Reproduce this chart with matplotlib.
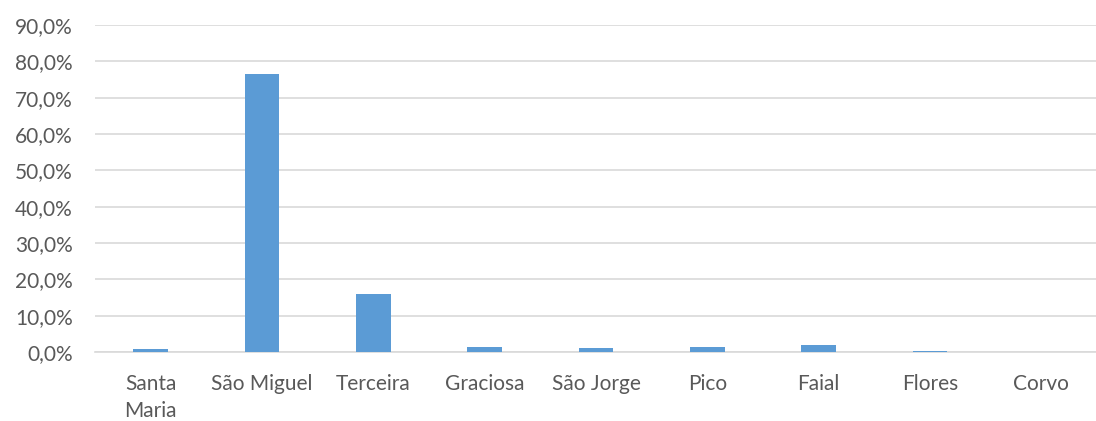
import matplotlib.pyplot as plt
from matplotlib.ticker import FuncFormatter

ilhas = ["Santa\nMaria", "São Miguel", "Terceira", "Graciosa", "São Jorge",
         "Pico", "Faial", "Flores", "Corvo"]
percentagens = [0.8, 76.5, 16.0, 1.4, 1.0, 1.3, 2.0, 0.3, 0.05]
yticks = [0, 10, 20, 30, 40, 50, 60, 70, 80, 90]

plt.rcParams['font.family'] = ['Lato', 'DejaVu Sans']

fig = plt.figure(figsize=(10.96, 4.21), dpi=100)
ax = fig.add_axes([95 / 1096, 69 / 421, 1002 / 1096, 327 / 421])

x = list(range(len(ilhas)))
ax.bar(x, percentagens, width=0.31, color='#5B9BD5', zorder=3)

ax.set_xlim(-0.5, len(ilhas) - 0.5)
ax.set_ylim(0, 90)
ax.set_yticks(yticks)
ax.yaxis.set_major_formatter(FuncFormatter(lambda v, p: f"{v:.1f}%".replace('.', ',')))
ax.set_xticks(x)
ax.set_xticklabels(ilhas, linespacing=1.45, va='top')

ax.grid(axis='y', color='#D9D9D9', linewidth=1.2, zorder=0)
for s in ['top', 'right', 'left']:
    ax.spines[s].set_visible(False)
ax.spines['bottom'].set_color('#D9D9D9')
ax.spines['bottom'].set_linewidth(1.2)
ax.tick_params(axis='both', length=0, labelsize=15, colors='#595959')
ax.tick_params(axis='x', pad=16)
ax.tick_params(axis='y', pad=16)

plt.savefig('out.png', dpi=100)
